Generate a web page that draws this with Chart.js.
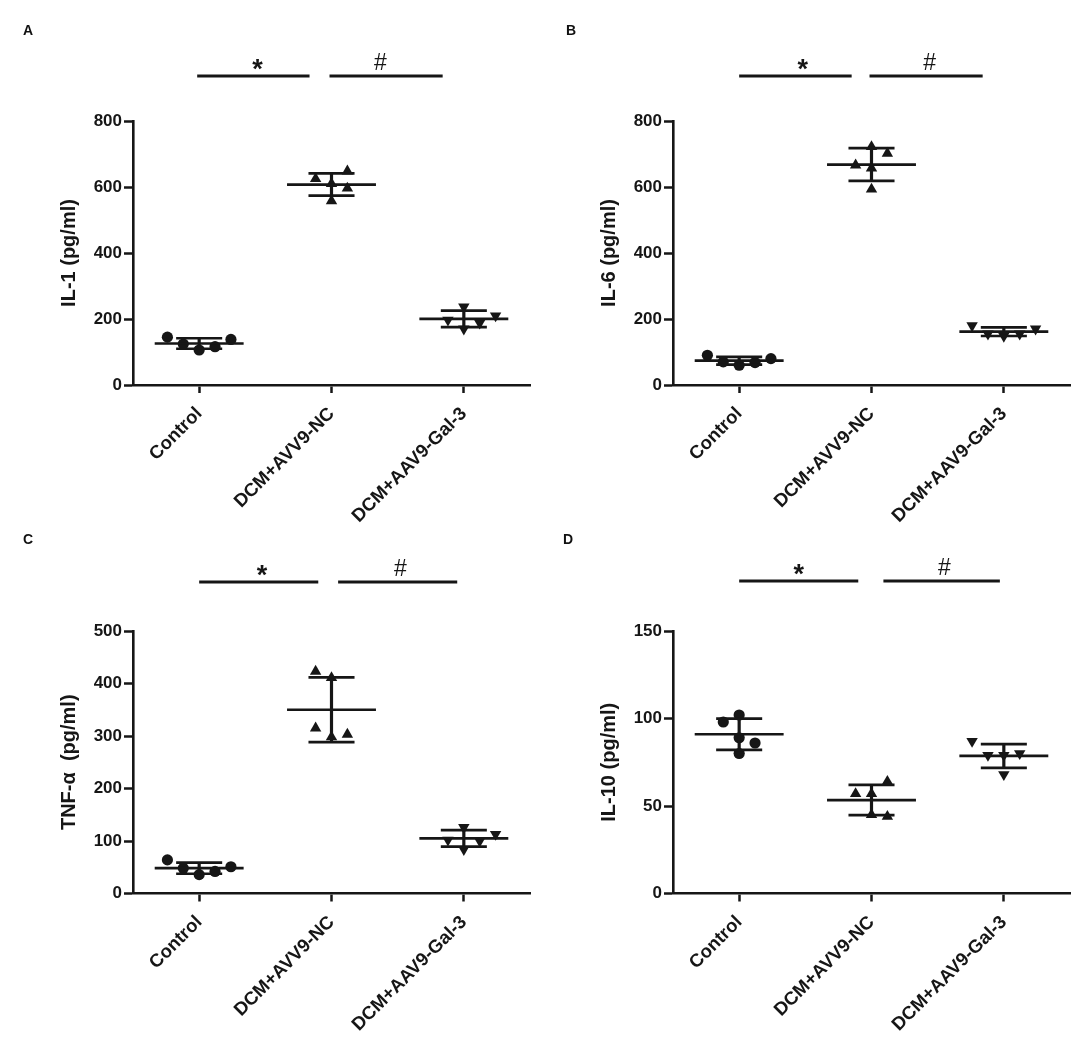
<!DOCTYPE html>
<html><head><meta charset="utf-8">
<script src="https://cdn.jsdelivr.net/npm/chart.js@4.4.0/dist/chart.umd.min.js"></script>
<style>
html,body{margin:0;padding:0;background:#fff;}
#wrap{position:relative;width:1084px;height:1057px;overflow:hidden;background:#fff;}
.panel{position:absolute;width:544px;height:547px;}
.letter{position:absolute;font:bold 14px "Liberation Sans",Arial,sans-serif;color:#111;line-height:14px;}
</style></head><body>
<div id="wrap">
  <div class="panel" style="left:0;top:0"><canvas id="cA" width="544" height="547"></canvas></div>
  <div class="panel" style="left:540px;top:0"><canvas id="cB" width="544" height="547"></canvas></div>
  <div class="panel" style="left:0;top:510px"><canvas id="cC" width="544" height="547"></canvas></div>
  <div class="panel" style="left:540px;top:510px"><canvas id="cD" width="544" height="547"></canvas></div>
  <div class="letter" style="left:23px;top:23px">A</div>
  <div class="letter" style="left:566px;top:23px">B</div>
  <div class="letter" style="left:23px;top:532px">C</div>
  <div class="letter" style="left:563px;top:532px">D</div>
</div>
<script>
// ---------- DATA ----------
const categories = ['Control', 'DCM+AVV9-NC', 'DCM+AAV9-Gal-3'];

const il1Control = [145, 124, 106, 116, 138];
const il1NC      = [625, 610, 648, 596, 558];
const il1Gal3    = [237, 197, 188, 210, 170];

const il6Control = [90, 70, 60, 68, 80];
const il6NC      = [722, 702, 666, 657, 593];
const il6Gal3    = [180, 155, 148, 155, 170];

const tnfControl = [64, 48, 36, 42, 51];
const tnfNC      = [423, 411, 315, 303, 298];
const tnfGal3    = [126, 102, 100, 113, 84];

const il10Control = [98, 102, 89, 86, 80];
const il10NC      = [64, 57, 57, 45, 44];
const il10Gal3    = [87, 79, 79, 80, 68];

const ticksIL1  = [0, 200, 400, 600, 800];
const ticksIL6  = [0, 200, 400, 600, 800];
const ticksTNF  = [0, 100, 200, 300, 400, 500];
const ticksIL10 = [0, 50, 100, 150];

const titleIL1  = 'IL-1 (pg/ml)';
const titleIL6  = 'IL-6 (pg/ml)';
const titleTNF  = 'TNF-\u03b1  (pg/ml)';
const titleIL10 = 'IL-10 (pg/ml)';

const sigSymbols = ['*', '#'];

// ---------- LAYOUT (not data) ----------
const FONT = '"Liberation Sans", Arial, sans-serif';
const INK = '#161616';
const SLOT = 0.12;         // horizontal spread step of scatter points, category units
const MEAN_HALF = 0.336;   // half width of mean line
const CAP_HALF = 0.174;    // half width of SD caps
const CANVAS_H = 547;

// scatter spread slots per panel / group
const spread = {
  A: [[-2,-1,0,1,2], [-1,0,1,1,0], [0,-1,1,2,0]],
  B: [[-2,-1,0,1,2], [0,1,-1,0,0], [-2,-1,0,1,2]],
  C: [[-2,-1,0,1,2], [-1,0,-1,1,0], [0,-1,1,2,0]],
  D: [[-1,0,0,1,0], [1,-1,0,0,1], [-2,-1,0,1,0]]
};
// significance bar layout [start,end] in category units, text x, bar y px
const sigLayout = {
  A: {bars: [[-0.015, 0.834], [0.985, 1.84]], text: [0.44, 1.37], y: 76},
  B: {bars: [[0.0, 0.85], [0.985, 1.84]], text: [0.48, 1.44], y: 76},
  C: {bars: [[0.0, 0.90], [1.05, 1.95]], text: [0.475, 1.52], y: 72},
  D: {bars: [[0.0, 0.90], [1.09, 1.97]], text: [0.45, 1.55], y: 71}
};

function meanSd(arr) {
  const m = arr.reduce((a, b) => a + b, 0) / arr.length;
  const v = arr.reduce((a, b) => a + (b - m) * (b - m), 0) / (arr.length - 1);
  return [m, Math.sqrt(v)];
}

const sigPlugin = {
  id: 'sig',
  afterDraw(chart) {
    const lay = chart.options.plugins.sig;
    if (!lay) return;
    const ctx = chart.ctx, xs = chart.scales.x;
    ctx.save();
    ctx.strokeStyle = INK; ctx.fillStyle = INK; ctx.lineWidth = 3.2; ctx.lineCap = 'butt';
    lay.bars.forEach(b => {
      ctx.beginPath();
      ctx.moveTo(xs.getPixelForValue(b[0]), lay.y);
      ctx.lineTo(xs.getPixelForValue(b[1]), lay.y);
      ctx.stroke();
    });
    ctx.textAlign = 'center'; ctx.textBaseline = 'alphabetic';
    ctx.font = 'bold 27px ' + FONT;
    ctx.fillText(sigSymbols[0], xs.getPixelForValue(lay.text[0]), lay.y + 2);
    ctx.font = '23px ' + FONT;
    ctx.fillText(sigSymbols[1], xs.getPixelForValue(lay.text[1]), lay.y - 6);
    ctx.restore();
  }
};

function makePanel(id, key, groups, tickVals, title, topPx, bottomPx) {
  const markers = [
    {style: 'circle', r: 5.6, rot: 0},
    {style: 'triangle', r: 6.6, rot: 0},
    {style: 'triangle', r: 6.6, rot: 180}
  ];
  const datasets = [];
  const err = [];
  groups.forEach((g, i) => {
    const [m, s] = meanSd(g);
    err.push({x: i - MEAN_HALF, y: m}, {x: i + MEAN_HALF, y: m}, {x: i, y: null});
    err.push({x: i - CAP_HALF, y: m + s}, {x: i + CAP_HALF, y: m + s}, {x: i, y: null});
    err.push({x: i - CAP_HALF, y: m - s}, {x: i + CAP_HALF, y: m - s}, {x: i, y: null});
  });
  const vert = [];
  groups.forEach((g, i) => {
    const [m, s] = meanSd(g);
    vert.push({x: i, y: m - s}, {x: i, y: m + s}, {x: i, y: null});
  });
  groups.forEach((g, i) => {
    datasets.push({
      type: 'scatter',
      data: g.map((v, k) => ({x: i + spread[key][i][k] * SLOT, y: v})),
      pointStyle: markers[i].style,
      pointRadius: markers[i].r,
      pointRotation: markers[i].rot,
      backgroundColor: INK,
      borderColor: INK,
      borderWidth: 0,
      order: 2
    });
  });
  datasets.push({type: 'line', data: err, borderColor: INK, borderWidth: 2.7, pointRadius: 0, spanGaps: false, showLine: true, order: 1, borderCapStyle: 'butt'});
  datasets.push({type: 'line', data: vert, borderColor: INK, borderWidth: 3.2, pointRadius: 0, spanGaps: false, showLine: true, order: 1, borderCapStyle: 'butt'});

  const yMax = tickVals[tickVals.length - 1];
  return new Chart(document.getElementById(id), {
    type: 'scatter',
    data: {datasets},
    plugins: [sigPlugin],
    options: {
      responsive: false,
      animation: false,
      events: [],
      layout: {padding: {left: 50, top: topPx, right: 14, bottom: 0}},
      plugins: {legend: {display: false}, tooltip: {enabled: false}, sig: sigLayout[key]},
      scales: {
        x: {
          type: 'linear', min: -0.5, max: 2.5,
          afterBuildTicks: (s) => { s.ticks = categories.map((c, i) => ({value: i})); },
          afterFit: (s) => { s.height = CANVAS_H - bottomPx; },
          ticks: {
            callback: (v) => categories[v],
            maxRotation: 45, minRotation: 45, autoSkip: false,
            font: {family: FONT, size: 18.5, weight: 'bold'}, color: INK, padding: 10
          },
          grid: {display: true, drawOnChartArea: false, drawTicks: true, tickLength: 8, tickWidth: 2.5, tickColor: INK},
          border: {display: true, color: INK, width: 2.6}
        },
        y: {
          type: 'linear', min: 0, max: yMax,
          afterBuildTicks: (s) => { s.ticks = tickVals.map(v => ({value: v})); },
          afterFit: (s) => { s.width = 83; },
          ticks: {font: {family: FONT, size: 17, weight: 'bold'}, color: INK, padding: 2},
          grid: {display: true, drawOnChartArea: false, drawTicks: true, tickLength: 9, tickWidth: 2.5, tickColor: INK},
          border: {display: true, color: INK, width: 2.6},
          title: {display: true, text: title, font: {family: FONT, size: 20, weight: 'bold'}, color: INK, padding: {top: 7, bottom: 0}}
        }
      }
    }
  });
}

makePanel('cA', 'A', [il1Control, il1NC, il1Gal3], ticksIL1, titleIL1, 121, 385);
makePanel('cB', 'B', [il6Control, il6NC, il6Gal3], ticksIL6, titleIL6, 121, 385);
makePanel('cC', 'C', [tnfControl, tnfNC, tnfGal3], ticksTNF, titleTNF, 121, 383.5);
makePanel('cD', 'D', [il10Control, il10NC, il10Gal3], ticksIL10, titleIL10, 121, 383.5);
</script>
</body></html>
